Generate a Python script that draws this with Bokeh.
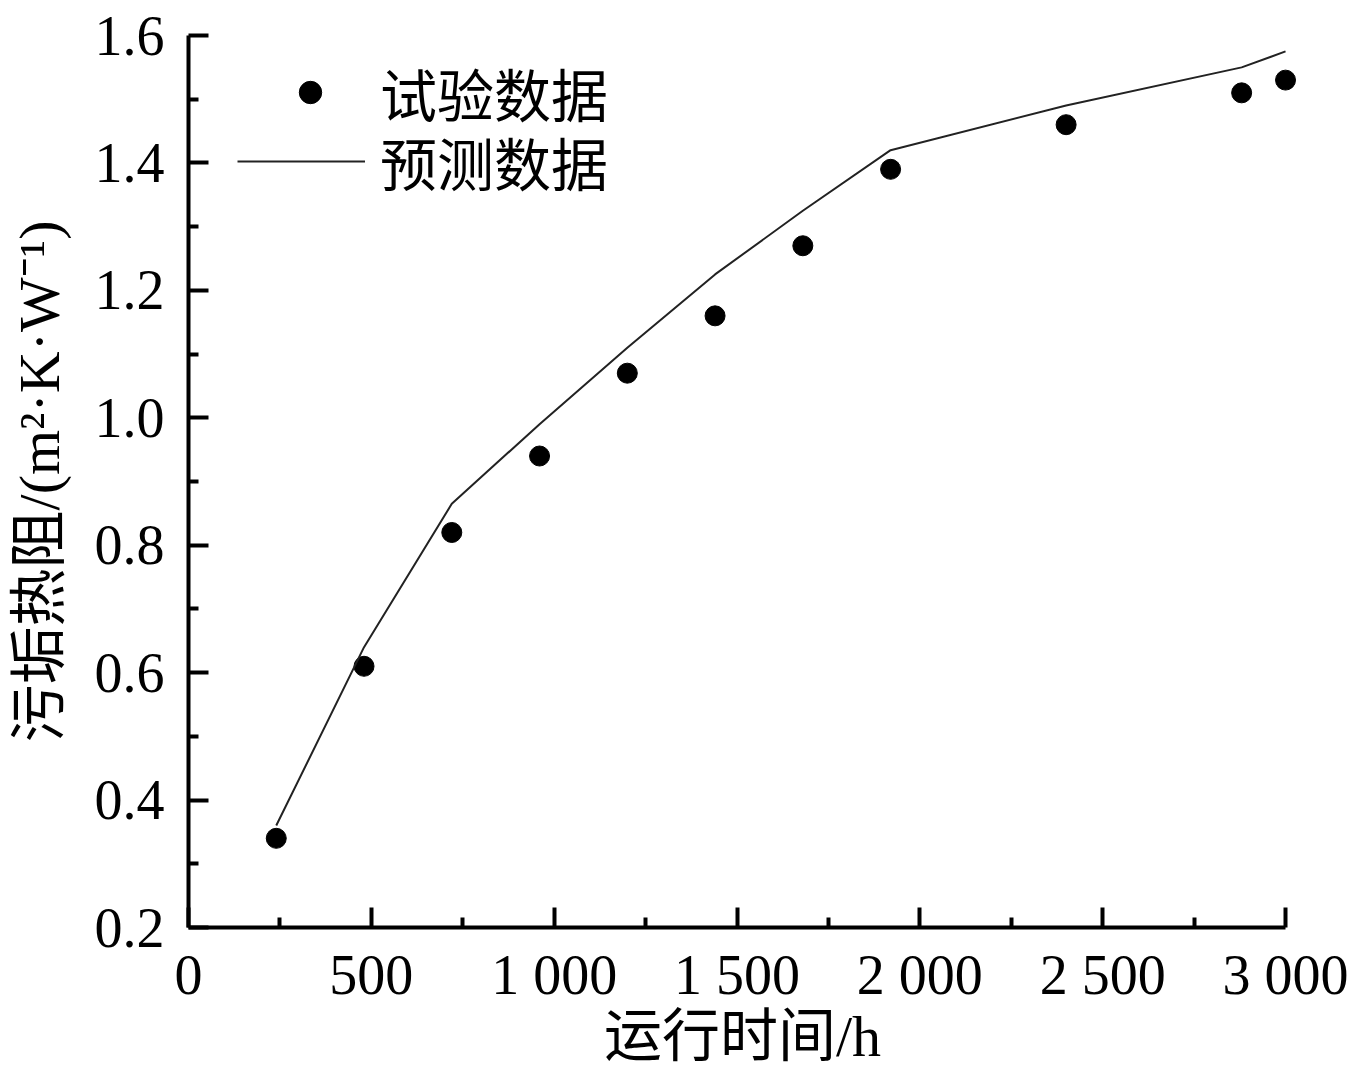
from bokeh.plotting import figure
from bokeh.models import FixedTicker, Legend, LegendItem, Range1d, NumeralTickFormatter
from bokeh.embed import file_html
from bokeh.resources import INLINE

# ---- data ----
time_h = [240, 480, 720, 960, 1200, 1440, 1680, 1920, 2400, 2880, 3000]
test_data = [0.34, 0.61, 0.82, 0.94, 1.07, 1.16, 1.27, 1.39, 1.46, 1.51, 1.53]
pred_data = [0.36, 0.64, 0.865, 0.99, 1.11, 1.225, 1.325, 1.42, 1.49, 1.55, 1.575]

x_ticks = [0, 500, 1000, 1500, 2000, 2500, 3000]
x_tick_labels = ["0", "500", "1 000", "1 500", "2 000", "2 500", "3 000"]
x_minor_ticks = [250, 750, 1250, 1750, 2250, 2750]
y_ticks = [0.2, 0.4, 0.6, 0.8, 1.0, 1.2, 1.4, 1.6]
y_minor_ticks = [0.3, 0.5, 0.7, 0.9, 1.1, 1.3, 1.5]

x_title = "运行时间/h"
y_title = "污垢热阻/(m²·K·W⁻¹)"
legend_labels = ["试验数据", "预测数据"]

SERIF = "Liberation Serif, Noto Sans CJK SC"
CJK = "Noto Sans CJK SC"

p = figure(width=1351, height=1071, output_backend="svg", toolbar_location=None,
           x_range=Range1d(0, 3030), y_range=Range1d(0.2, 1.6),
           min_border_left=188, min_border_right=55, min_border_top=35, min_border_bottom=143)
p.outline_line_color = None
p.xgrid.visible = False
p.ygrid.visible = False
p.background_fill_color = "white"
p.border_fill_color = "white"

sc = p.scatter(time_h, test_data, size=20, color="black")
ln = p.line(time_h, pred_data, line_width=2, line_color="#222222")

for ax in (p.xaxis[0], p.yaxis[0]):
    ax.axis_line_width = 4
    ax.axis_line_color = "black"
    ax.major_tick_in = 20
    ax.major_tick_out = 0
    ax.minor_tick_in = 10
    ax.minor_tick_out = 0
    ax.major_tick_line_width = 4
    ax.minor_tick_line_width = 4
    ax.major_tick_line_color = "black"
    ax.minor_tick_line_color = "black"
    ax.major_label_text_font = "Liberation Serif"
    ax.major_label_text_font_size = "56px"
    ax.major_label_text_color = "black"
    ax.axis_label_text_font = SERIF
    ax.axis_label_text_font_size = "58px"
    ax.axis_label_text_font_style = "normal"
    ax.axis_label_text_color = "black"

xa = p.xaxis[0]
xa.ticker = FixedTicker(ticks=x_ticks, minor_ticks=x_minor_ticks)
xa.major_label_overrides = {t: l for t, l in zip(x_ticks, x_tick_labels)}
xa.bounds = (0, 3000)
xa.axis_label = x_title
xa.major_label_standoff = 16
xa.axis_label_standoff = -5

ya = p.yaxis[0]
ya.ticker = FixedTicker(ticks=y_ticks, minor_ticks=y_minor_ticks)
ya.formatter = NumeralTickFormatter(format="0.0")
ya.bounds = (0.2, 1.6)
ya.axis_label = y_title
ya.major_label_standoff = 24
ya.axis_label_standoff = 20

common = dict(padding=0, spacing=0, glyph_height=56, label_height=56, label_standoff=15,
              label_text_font=CJK, label_text_font_size="57px", label_text_color="black",
              border_line_color=None, background_fill_alpha=0)
legend1 = Legend(items=[LegendItem(label=legend_labels[0], renderers=[sc])],
                 location=(67, 794), glyph_width=110, **common)
legend2 = Legend(items=[LegendItem(label=legend_labels[1], renderers=[ln])],
                 location=(49, 725), glyph_width=128, **common)
p.add_layout(legend1, "center")
p.add_layout(legend2, "center")

open("out.html", "w").write(file_html(p, INLINE))
